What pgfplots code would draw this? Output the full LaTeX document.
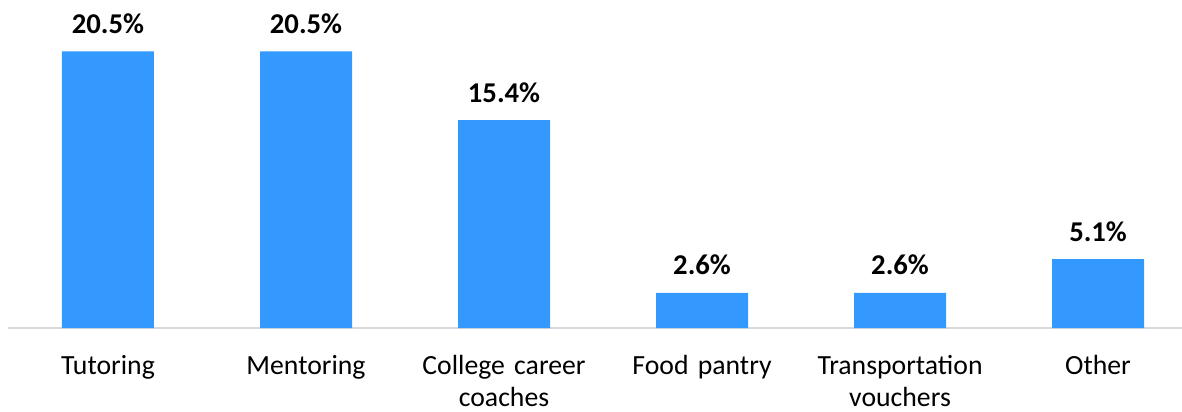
\documentclass[border=0pt]{standalone}
\usepackage{fontspec}
\setmainfont{Carlito}
\usepackage{pgfplots}
\pgfplotsset{compat=1.18}
\definecolor{barblue}{HTML}{3399FF}
\definecolor{axgray}{HTML}{D9D9D9}
\begin{document}
\begin{tikzpicture}
\useasboundingbox (-6pt,-62.25pt) rectangle (880.5pt,246pt);
\begin{axis}[
  at={(0,0)}, anchor=south west,
  scale only axis, width=880.5pt, height=246pt,
  xmin=-0.505, xmax=5.424, ymin=0, ymax=24.3,
  axis y line=none, axis x line*=bottom,
  axis line style={axgray, line width=1.5pt},
  xtick={0,...,5},
  xticklabels={Tutoring,Mentoring,{College career\\coaches},Food pantry,{Transportation\\vouchers},Other},
  major tick length=0pt,
  xticklabel style={font=\fontsize{20.8}{24}\selectfont, align=center, text width=150pt, anchor=base, yshift=-34.5pt, text=black},
  ybar, bar width=69pt,
  /pgf/number format/assume math mode=true,
  nodes near coords={\pgfmathprintnumber[fixed,fixed zerofill,precision=1]{\pgfplotspointmeta}\%},
  every node near coord/.append style={font=\bfseries\fontsize{21.5}{24}\selectfont, anchor=base, yshift=13.5pt, text=black},
  clip=false,
]
\addplot[fill=barblue, draw=none] coordinates {(0,20.5) (1,20.5) (2,15.4) (3,2.6) (4,2.6) (5,5.1)};
\end{axis}
\end{tikzpicture}
\end{document}
